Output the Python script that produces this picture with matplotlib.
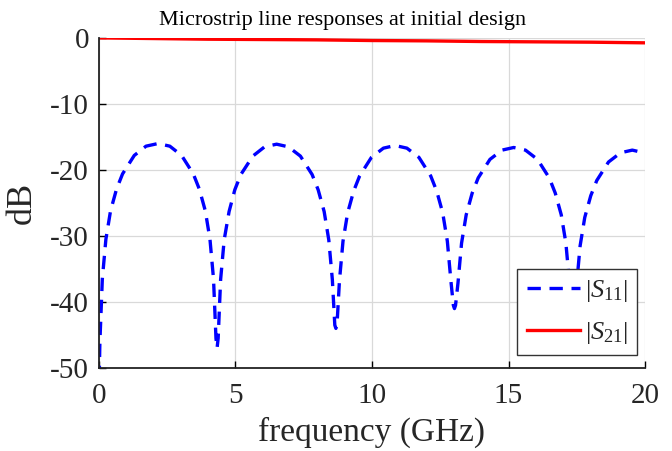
import numpy as np
import matplotlib.pyplot as plt

plt.rcParams['font.family'] = ['Liberation Serif', 'DejaVu Serif']
plt.rcParams['mathtext.fontset'] = 'custom'
plt.rcParams['mathtext.rm'] = 'Liberation Serif'
plt.rcParams['mathtext.it'] = 'Liberation Serif:italic'
plt.rcParams['axes.unicode_minus'] = False

# |S11| (GHz, dB)
f_s11 = [0.00, 0.04, 0.13, 0.26, 0.43, 0.65, 0.87, 1.30, 1.73, 2.17, 2.60, 3.03, 3.46, 3.68, 3.90, 4.07, 4.20, 4.29, 4.33,
         4.37, 4.46, 4.59, 4.77, 4.98, 5.20, 5.64, 6.07, 6.51, 6.94, 7.38, 7.81, 8.03, 8.25, 8.42, 8.55, 8.64, 8.68,
         8.72, 8.81, 8.94, 9.11, 9.33, 9.55, 9.98, 10.42, 10.85, 11.28, 11.72, 12.15, 12.37, 12.59, 12.76, 12.89, 12.98, 13.02,
         13.06, 13.15, 13.28, 13.45, 13.67, 13.89, 14.32, 14.76, 15.19, 15.62, 16.06, 16.49, 16.71, 16.93, 17.10, 17.23, 17.32, 17.36,
         17.40, 17.49, 17.62, 17.79, 18.01, 18.23, 18.66, 19.10, 19.53, 19.96, 20.00]
s11_db = [-55.0, -46.1, -36.5, -30.5, -26.2, -22.9, -20.6, -17.8, -16.4, -16.0, -16.4, -17.8, -20.6, -22.9, -26.2, -30.5, -36.5, -45.5, -47.0,
          -45.5, -36.6, -30.6, -26.3, -23.0, -20.7, -17.9, -16.5, -16.1, -16.5, -17.9, -20.7, -23.0, -26.3, -30.6, -36.6, -43.5, -44.0,
          -43.5, -36.8, -30.8, -26.5, -23.2, -20.9, -18.1, -16.7, -16.3, -16.7, -18.1, -20.9, -23.2, -26.5, -30.8, -36.8, -40.5, -41.0,
          -40.5, -37.1, -31.1, -26.8, -23.5, -21.2, -18.4, -17.0, -16.6, -17.0, -18.4, -21.2, -23.5, -26.8, -31.1, -37.1, -38.0, -38.0,
          -37.5, -37.5, -31.5, -27.2, -23.9, -21.6, -18.8, -17.4, -17.0, -17.4, -17.5]

# |S21|
f_s21 = [0, 2, 4, 6, 8, 10, 12, 14, 16, 18, 20]
s21_db = [0.0, -0.1, -0.2, -0.25, -0.3, -0.4, -0.45, -0.55, -0.6, -0.65, -0.75]

txt = '#262626'

fig = plt.figure(figsize=(6.72, 4.51), dpi=100)
ax = fig.add_axes([0.147, 0.184, 0.813, 0.732])

ax.plot(f_s11, s11_db, '--', color='blue', lw=2.4, dashes=(4, 2.6), label=r'$|S_{11}|$')
ax.plot(f_s21, s21_db, '-', color='red', lw=2.4, label=r'$|S_{21}|$')

ax.set_xlim(0, 20)
ax.set_ylim(-50, 0)
ax.set_xticks([0, 5, 10, 15, 20])
ax.set_yticks([-50, -40, -30, -20, -10, 0])
ax.grid(True, color='#d9d9d9', lw=0.9)
ax.set_axisbelow(True)
for s in ['top', 'right']:
    ax.spines[s].set_visible(False)
for s in ['left', 'bottom']:
    ax.spines[s].set_linewidth(1.3)
    ax.spines[s].set_color('#222222')
ax.tick_params(direction='in', length=5, width=1.0, labelsize=21, labelcolor=txt)
ax.tick_params(axis='x', pad=11)
ax.tick_params(axis='y', pad=7)

ax.set_xlabel('frequency (GHz)', fontsize=24, labelpad=5, color=txt)
ax.set_ylabel('dB', fontsize=26, labelpad=8, color=txt)
fig.text(0.51, 0.955, 'Microstrip line responses at initial design', fontsize=16,
         ha='center', va='center', color='black')

leg = ax.legend(loc='lower right', bbox_to_anchor=(0.985, 0.039), borderaxespad=0,
                fontsize=19, fancybox=False, framealpha=1,
                edgecolor='#333333', handlelength=2.0,
                labelspacing=0.6, borderpad=0.35, handletextpad=0.2)
leg.get_frame().set_linewidth(1.0)
for t in leg.get_texts():
    t.set_color(txt)

plt.savefig('out.png', dpi=100)
